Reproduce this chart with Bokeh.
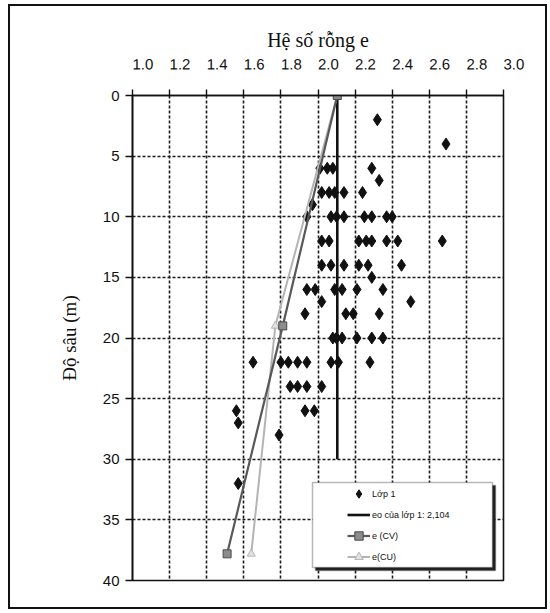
from bokeh.plotting import figure
from bokeh.layouts import column
from bokeh.models import (Range1d, FixedTicker, PrintfTickFormatter, Legend,
                          LegendItem, BoxAnnotation)
from bokeh.embed import file_html
from bokeh.resources import INLINE

# Layer 1 samples: depth (m) and void ratio e
sample_depth = (
    [2] + [4] + [6] * 4 + [7] + [8] * 5 + [9] + [10] * 8 + [12] * 8 + [14] * 6
    + [15] + [16] * 6 + [17] * 2 + [18] * 4 + [20] * 6 + [22] * 8 + [24] * 4
    + [26] * 3 + [27] + [28] + [32]
)
sample_e = [
    2.32,
    2.69,
    2.01, 2.05, 2.08, 2.29,
    2.33,
    2.02, 2.06, 2.09, 2.14, 2.24,
    1.97,
    1.94, 2.07, 2.10, 2.14, 2.25, 2.29, 2.37, 2.40,
    2.02, 2.06, 2.22, 2.26, 2.29, 2.37, 2.43, 2.67,
    2.02, 2.07, 2.14, 2.22, 2.27, 2.45,
    2.29,
    1.94, 1.985, 2.09, 2.13, 2.21, 2.35,
    2.02, 2.50,
    1.93, 2.15, 2.19, 2.33,
    2.08, 2.10, 2.13, 2.21, 2.29, 2.35,
    1.65, 1.80, 1.84, 1.89, 1.94, 2.07, 2.11, 2.28,
    1.85, 1.89, 1.94, 2.02,
    1.56, 1.93, 1.98,
    1.57,
    1.79,
    1.57,
]

# mean void ratio of layer 1
e0_value = 2.104
e0_depth = [0, 30]

# design lines e(CV) and e(CU)
cv_depth = [0, 19, 37.8]
cv_e = [2.104, 1.81, 1.51]
cu_depth = [0, 19, 37.8]
cu_e = [2.104, 1.77, 1.64]

x_ticks = [1.0, 1.2, 1.4, 1.6, 1.8, 2.0, 2.2, 2.4, 2.6, 2.8, 3.0]
y_ticks = [0, 5, 10, 15, 20, 25, 30, 35, 40]

p = figure(width=535, height=601, x_range=Range1d(1.0, 3.0),
           y_range=Range1d(40, 0), x_axis_location="above",
           output_backend="svg", toolbar_location=None,
           min_border_left=122, min_border_right=42,
           min_border_top=89, min_border_bottom=27,
           x_axis_label="Hệ số rỗng e", y_axis_label="Độ sâu (m)")

p.background_fill_color = "#ffffff"
p.border_fill_color = "#ffffff"
p.outline_line_color = "#111111"
p.outline_line_width = 1.6

for ax in (p.xaxis[0], p.yaxis[0]):
    ax.axis_line_color = "#111111"
    ax.axis_line_width = 1.6
    ax.major_tick_line_color = "#111111"
    ax.major_tick_line_width = 1.4
    ax.major_tick_in = 0
    ax.minor_tick_line_color = None
    ax.major_label_text_font = "Liberation Sans"
    ax.major_label_text_font_size = "15px"
    ax.major_label_text_color = "#111111"
    ax.axis_label_text_font = "Liberation Serif"
    ax.axis_label_text_font_style = "normal"
    ax.axis_label_text_color = "#111111"

xa = p.xaxis[0]
xa.ticker = FixedTicker(ticks=x_ticks)
xa.formatter = PrintfTickFormatter(format="%.1f")
# a tiny tilt makes the labels start at their ticks
xa.major_label_orientation = 0.001
xa.major_tick_out = 6
xa.major_label_standoff = 25
xa.axis_label_standoff = 0
xa.axis_label_text_font_size = "20px"

ya = p.yaxis[0]
ya.ticker = FixedTicker(ticks=y_ticks)
ya.major_tick_out = 7
ya.major_label_standoff = 6
ya.axis_label_standoff = 20
ya.axis_label_text_font_size = "19px"

for g, ticks in ((p.xgrid[0], x_ticks), (p.ygrid[0], y_ticks)):
    g.ticker = FixedTicker(ticks=ticks)
    g.grid_line_color = "#1a1a1a"
    g.grid_line_width = 1.6
    g.grid_line_dash = "3 2"

pts = p.scatter(sample_e, sample_depth, marker="diamond", size=12,
                fill_color="#111111", line_color="#111111", line_width=1)

e0 = p.line([e0_value, e0_value], e0_depth, line_color="#111111",
            line_width=2.6)

cu_line = p.line(cu_e, cu_depth, line_color="#b4b4b4", line_width=2)
cu_pts = p.scatter(cu_e, cu_depth, marker="triangle", size=8,
                   fill_color="#e2e2e2", line_color="#b4b4b4")

cv_line = p.line(cv_e, cv_depth, line_color="#585858", line_width=2.2)
cv_pts = p.scatter(cv_e, cv_depth, marker="square", size=8,
                   fill_color="#8c8c8c", line_color="#4a4a4a")

# legend panel with a drop shadow
p.add_layout(BoxAnnotation(left=305, right=485, top=479, bottom=564,
                           left_units="canvas", right_units="canvas",
                           top_units="canvas", bottom_units="canvas",
                           fill_color="#222222", fill_alpha=1,
                           line_color="#222222", line_width=1.5))
p.add_layout(BoxAnnotation(left=302, right=482, top=476, bottom=561,
                           left_units="canvas", right_units="canvas",
                           top_units="canvas", bottom_units="canvas",
                           fill_color="#ffffff", fill_alpha=1,
                           line_color="#111111", line_width=1.5))

legend = Legend(items=[
    LegendItem(label="Lớp 1", renderers=[pts]),
    LegendItem(label="eo của lớp 1: 2,104", renderers=[e0]),
    LegendItem(label="e (CV)", renderers=[cv_line, cv_pts]),
    LegendItem(label="e(CU)", renderers=[cu_line, cu_pts]),
], location=(215, 13))
legend.padding = 0
legend.margin = 0
legend.spacing = 0
legend.glyph_width = 23
legend.glyph_height = 21
legend.label_height = 21
legend.label_standoff = 2
legend.label_text_font = "Liberation Sans"
legend.label_text_font_size = "9px"
legend.label_text_color = "#111111"
legend.background_fill_alpha = 0
legend.border_line_alpha = 0
p.add_layout(legend)

# black frame round the whole chart
root = column(p, styles={"border": "2px solid #111111",
                         "margin-left": "8px", "margin-top": "4px",
                         "background-color": "#ffffff"})

open("out.html", "w").write(file_html(root, INLINE))
